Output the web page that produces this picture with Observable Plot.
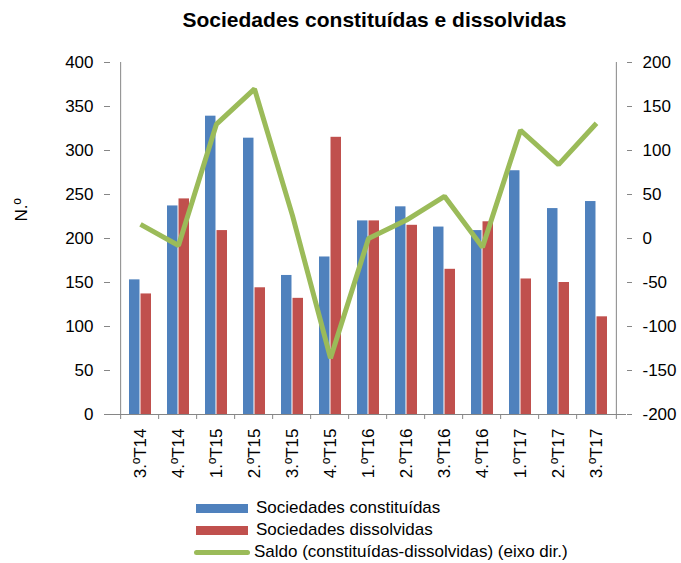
<!DOCTYPE html>
<html><head><meta charset="utf-8">
<script src="https://cdn.jsdelivr.net/npm/d3@7"></script>
<script src="https://cdn.jsdelivr.net/npm/@observablehq/plot@0.6"></script>
<style>
body{margin:0;background:#fff;font-family:"Liberation Sans",Arial,sans-serif;}
#wrap{position:relative;width:681px;height:563px;}
#title{position:absolute;left:0;top:8px;width:749px;text-align:center;font-weight:bold;font-size:21px;line-height:24px;color:#000;}
#chart{position:absolute;left:0;top:0;}
#legend{position:absolute;left:194px;top:497px;font-size:17px;color:#000;}
.row{display:flex;align-items:center;height:22px;}
.sw{width:52px;height:9px;margin:0 8px 0 2px;}
.ln{width:56px;height:5px;border-radius:3px;margin-right:4px;}
</style></head>
<body><div id="wrap"><div id="chart"></div><div id="title">Sociedades constituídas e dissolvidas</div>
<div id="legend"></div></div>
<script>
const quarters = ["3.ºT14","4.ºT14","1.ºT15","2.ºT15","3.ºT15","4.ºT15","1.ºT16","2.ºT16","3.ºT16","4.ºT16","1.ºT17","2.ºT17","3.ºT17"];
const constituidas = [153,237,339,314,158,179,220,236,213,209,277,234,242];
const dissolvidas  = [137,245,209,144,132,315,220,215,165,219,154,150,111];
const saldo        = [16,-8,130,170,26,-136,0,21,48,-10,123,84,131];
const leftTicks  = [0,50,100,150,200,250,300,350,400];
const rightTicks = [-200,-150,-100,-50,0,50,100,150,200];
const seriesNames = ["Sociedades constituídas","Sociedades dissolvidas","Saldo (constituídas-dissolvidas) (eixo dir.)"];
const colors = ["#4F81BD","#C0504D","#9BBB59"];

const rows = quarters.map((q,i)=>({q, c: constituidas[i], d: dissolvidas[i], s: saldo[i]}));
const W = 681, H = 563, mL = 110, mR = 55, mT = 62, mB = 149;
const step = (W - mL - mR) / quarters.length;
const pad = 0.42;
const half = step * (1 - pad) / 2;
// right axis (-200..200) shares the left axis range (0..400)
const toLeft = v => v + 200;
const rightLabel = new Map(rightTicks.map(v => [toLeft(v), String(v)]));

const chart = Plot.plot({
  width: W, height: H,
  marginLeft: mL, marginRight: mR, marginTop: mT, marginBottom: mB,
  style: {fontFamily: "'Liberation Sans', Arial, sans-serif", fontSize: "17px", color: "#000", background: "#fff"},
  x: {domain: quarters, padding: pad, align: 0.5, label: null},
  y: {domain: [0, 400], label: null},
  marks: [
    Plot.barY(rows, {x: "q", y: "c", fill: colors[0], insetRight: half, insetLeft: 0}),
    Plot.barY(rows, {x: "q", y: "d", fill: colors[1], insetLeft: half, insetRight: 0}),
    Plot.lineY(rows, {x: "q", y: d => toLeft(d.s), stroke: colors[2], strokeWidth: 5, strokeLinejoin: "miter", strokeLinecap: "butt"}),
    // left axis
    Plot.axisY({anchor: "left", ticks: leftTicks, tickSize: 6, tickPadding: 11, stroke: "#868686", fontSize: 17, label: null}),
    Plot.ruleX([0], {x: () => quarters[0], dx: -step/2, y1: 0, y2: 400, stroke: "#868686"}),
    // right axis
    Plot.axisY({anchor: "right", ticks: rightTicks.map(toLeft), tickSize: 5, tickPadding: 11, stroke: "#868686", fontSize: 17, tickFormat: d => rightLabel.get(d), label: null}),
    Plot.ruleX([0], {x: () => quarters[quarters.length-1], dx: step/2, y1: 0, y2: 400, stroke: "#868686"}),
    // x axis
    Plot.ruleY([0], {stroke: "#868686"}),
    Plot.axisX({ticks: quarters, tickSize: 5, dx: -step/2, text: null, stroke: "#868686"}),
    Plot.axisX({ticks: [quarters[quarters.length-1]], tickSize: 5, dx: step/2, text: null, stroke: "#868686"}),
    Plot.axisX({ticks: quarters, tickSize: 0, tickPadding: 14, tickRotate: -90, fontSize: 17, label: null}),
    Plot.text(["N.º"], {frameAnchor: "left", dx: -89, dy: -17, rotate: -90, fontSize: 17, fill: "#000"})
  ]
});
document.getElementById("chart").appendChild(chart);

const leg = document.getElementById("legend");
seriesNames.forEach((n,i)=>{
  const r = document.createElement("div"); r.className = "row";
  const s = document.createElement("div"); s.className = i < 2 ? "sw" : "ln"; s.style.background = colors[i];
  const t = document.createElement("span"); t.textContent = n;
  r.appendChild(s); r.appendChild(t); leg.appendChild(r);
});
</script></body></html>
